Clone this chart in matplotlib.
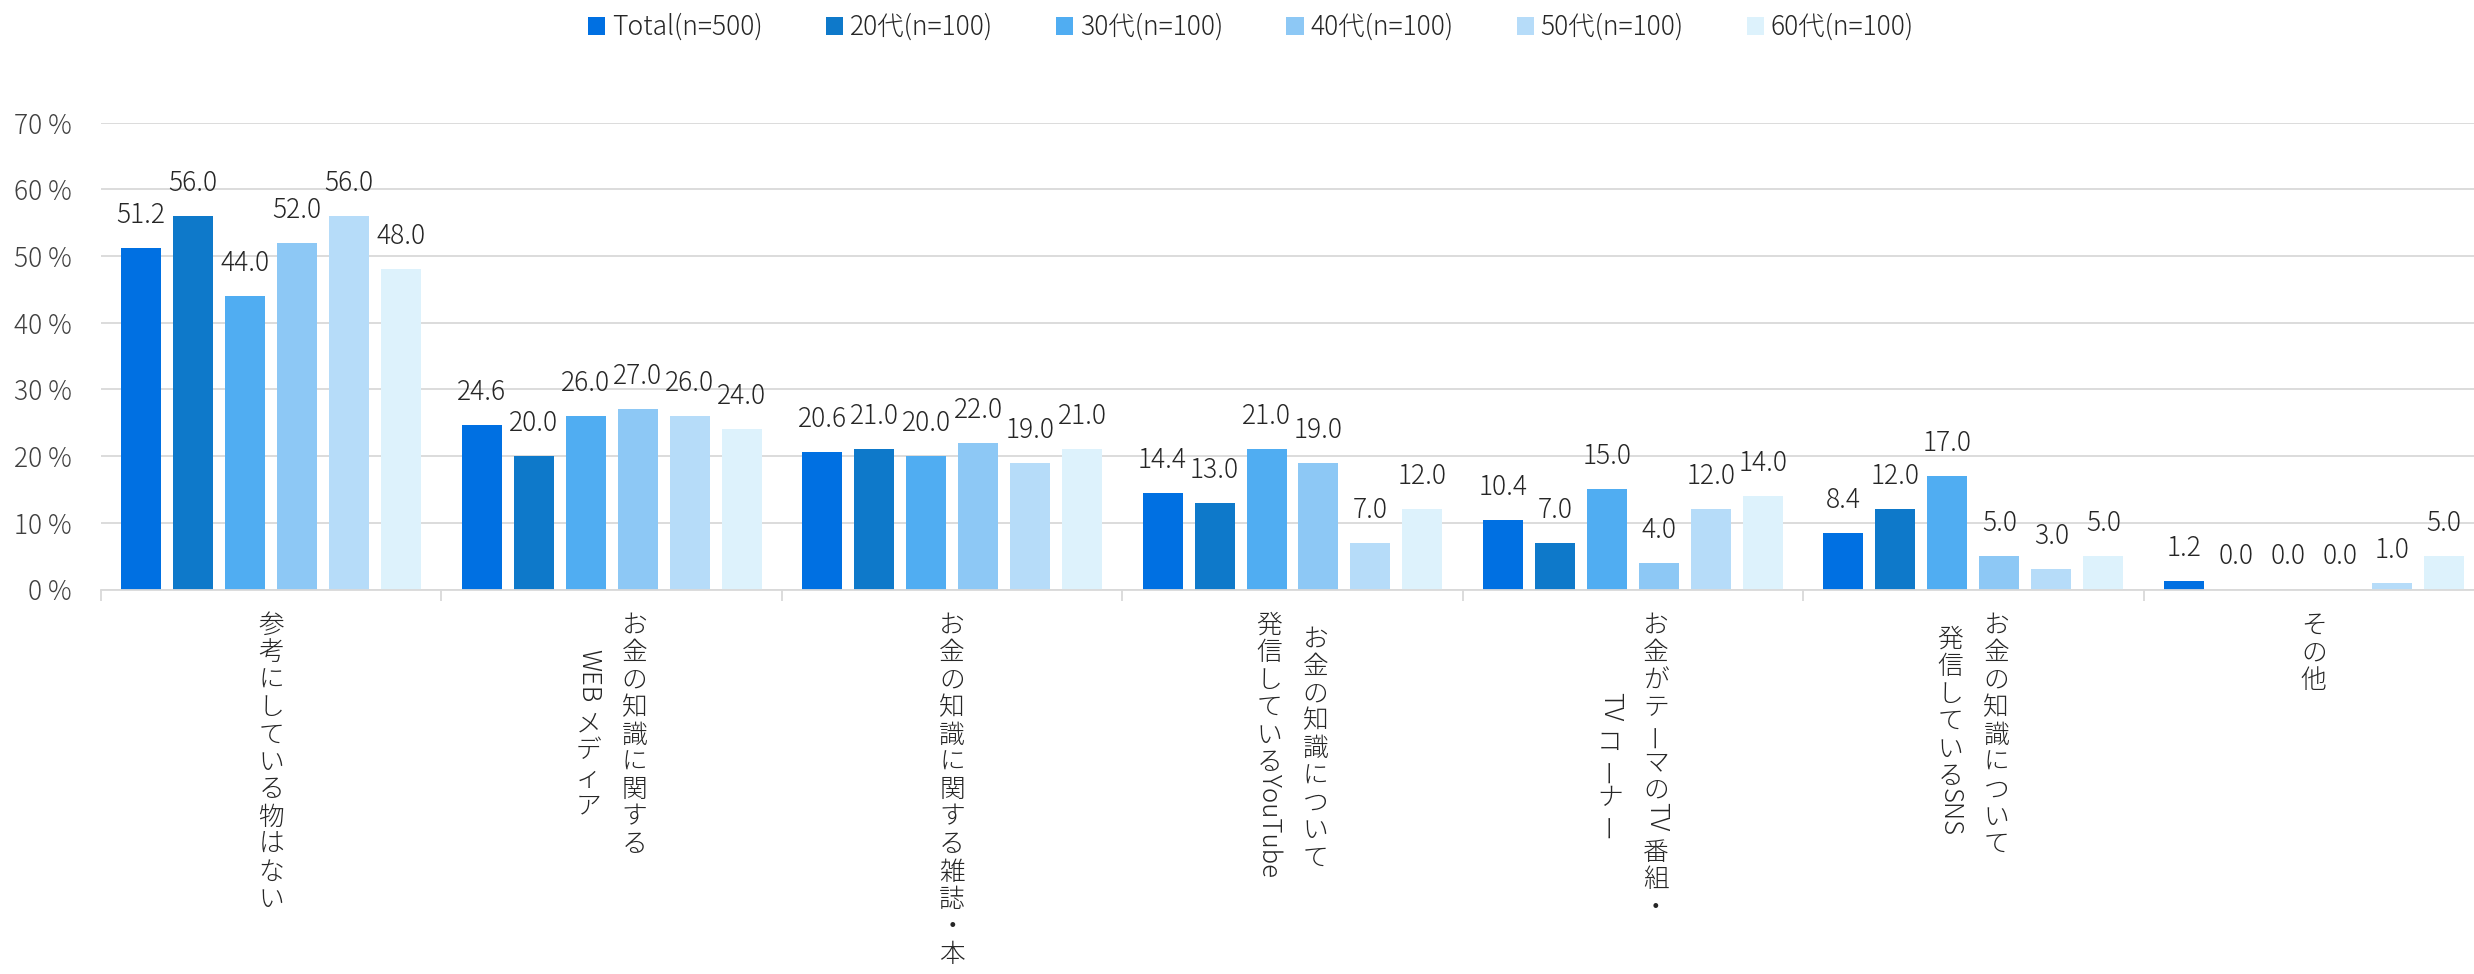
import matplotlib
matplotlib.use("Agg")
import matplotlib.pyplot as plt
from matplotlib.font_manager import FontProperties
import numpy as np

plt.rcParams['font.family'] = ['Noto Sans CJK JP', 'DejaVu Sans']
plt.rcParams['font.weight'] = 'light'

# data
categories = [
    "参考にしている物はない",
    "お金の知識に関する\nWEBメディア",
    "お金の知識に関する雑誌・本",
    "お金の知識について\n発信しているYouTube",
    "お金がテーマのTV番組・\nTVコーナー",
    "お金の知識について\n発信しているSNS",
    "その他",
]
series_names = ["Total(n=500)", "20代(n=100)", "30代(n=100)",
                "40代(n=100)", "50代(n=100)", "60代(n=100)"]
total = [51.2, 24.6, 20.6, 14.4, 10.4, 8.4, 1.2]
age20 = [56.0, 20.0, 21.0, 13.0, 7.0, 12.0, 0.0]
age30 = [44.0, 26.0, 20.0, 21.0, 15.0, 17.0, 0.0]
age40 = [52.0, 27.0, 22.0, 19.0, 4.0, 5.0, 0.0]
age50 = [56.0, 26.0, 19.0, 7.0, 12.0, 3.0, 1.0]
age60 = [48.0, 24.0, 21.0, 12.0, 14.0, 5.0, 5.0]
series = [total, age20, age30, age40, age50, age60]
colors = ["#0070E2", "#0E79CA", "#50ADF2", "#8DC8F5", "#B6DCF9", "#DDF2FC"]

W, H = 2474, 974
fig = plt.figure(figsize=(W / 100, H / 100), dpi=100)
ax = fig.add_axes([101 / W, (H - 589.5) / H, (2484 - 101) / W, (589.5 - 122.5) / H])

x = np.arange(len(categories))
pitch = 52 / 340.5
width = 40 / 340.5

handles = []
for i, (vals, name, c) in enumerate(zip(series, series_names, colors)):
    pos = x + (i - 2.5) * pitch
    b = ax.bar(pos, vals, width, color=c, label=name, linewidth=0)
    handles.append(b)
    for xp, v in zip(pos, vals):
        ax.annotate(f"{v:.1f}", (xp, v), xytext=(0, 18), textcoords="offset points",
                    ha="center", va="baseline", fontsize=19, color="#262626")

ax.set_xlim(-0.5, len(categories) - 0.5)
ax.set_ylim(0, 70)
ax.set_yticks(range(0, 71, 10))
ax.set_yticklabels([f"{v} %" for v in range(0, 71, 10)])
ax.tick_params(axis="y", length=0, pad=21, labelsize=19, labelcolor="#404040")
ax.set_xticks(np.arange(len(categories) + 1) - 0.5)
ax.set_xticklabels([])
ax.tick_params(axis="x", length=8, width=1.3, color="#D9D9D9")
ax.yaxis.grid(True, color="#D9D9D9", lw=1.3)
ax.set_axisbelow(True)
for s in ["top", "left", "right"]:
    ax.spines[s].set_visible(False)
ax.spines["bottom"].set_color("#D9D9D9")
ax.spines["bottom"].set_linewidth(1.3)

fig.legend(handles=handles, labels=series_names, ncol=6, loc="center",
           bbox_to_anchor=(1251 / W, 1 - 27 / H), frameon=False, fontsize=19,
           handlelength=0.65, handleheight=0.65, handletextpad=0.25,
           columnspacing=2.4, labelcolor="#262626")

# vertical (tategaki) category labels
renderer = fig.canvas.get_renderer()
fp = FontProperties(family=["Noto Sans CJK JP"], size=18.5, weight="light")
char_pitch = 27.4
col_gap = 46
block_top = 612


def is_latin(ch):
    return ch.isascii() and ch.isalnum()


def split_runs(line):
    runs = []
    for ch in line:
        if is_latin(ch) and runs and runs[-1][0] == "latin":
            runs[-1][1] += ch
        else:
            runs.append(["latin" if is_latin(ch) else "cjk", ch])
    return runs


def run_length(kind, s):
    if kind == "cjk":
        return char_pitch
    w, h, d = renderer.get_text_width_height_descent(s, fp, ismath=False)
    return w + 6


for i, label in enumerate(categories):
    lines = label.split("\n")
    cx = ax.transData.transform((i, 0))[0]
    runs_per_line = [split_runs(l) for l in lines]
    lengths = [sum(run_length(k, s) for k, s in r) for r in runs_per_line]
    block = max(lengths)
    n = len(lines)
    for j, (runs, L) in enumerate(zip(runs_per_line, lengths)):
        colx = cx + ((n - 1) / 2 - j) * col_gap
        cur = block_top + (block - L) / 2
        for kind, s in runs:
            step = run_length(kind, s)
            if kind == "cjk":
                rot = 90 if s == "ー" else 0
                fig.text(colx / W, 1 - (cur + step / 2) / H, s, ha="center", va="center",
                         rotation=rot, fontproperties=fp, color="#262626")
            else:
                fig.text(colx / W, 1 - (cur - 2) / H, s, ha="left", va="center",
                         rotation=-90, rotation_mode="anchor", fontproperties=fp,
                         color="#262626")
            cur += step

fig.savefig("out.png", dpi=100)
